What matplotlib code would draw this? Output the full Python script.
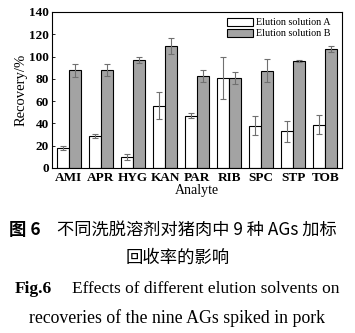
import numpy as np
import matplotlib.pyplot as plt

analytes = ['AMI', 'APR', 'HYG', 'KAN', 'PAR', 'RIB', 'SPC', 'STP', 'TOB']
rec_a = [18, 29, 10, 56, 47, 81, 38, 33, 39]
err_a = [2, 1.8, 3, 12, 2.2, 19, 8.4, 9.3, 8.4]
rec_b = [87.5, 87.8, 96.8, 109.5, 82.3, 80.5, 87.4, 96, 106.5]
err_b = [6, 5.4, 2.7, 7.5, 5.5, 5.5, 10, 1, 2.7]

serif = ['Liberation Serif', 'DejaVu Serif']
cjk = ['Noto Sans CJK SC', 'DejaVu Sans']

fig = plt.figure(figsize=(3.55, 3.33), dpi=100)
ax = fig.add_axes([52 / 355, 1 - 168 / 333, 290 / 355, 156 / 333])

x = np.arange(len(analytes))
w = 0.375
ekw = dict(ecolor='#707070', elinewidth=0.8, capsize=2.5, capthick=0.8)
ax.bar(x - w / 2, rec_a, w, yerr=err_a, color='white', edgecolor='black',
       linewidth=0.8, error_kw=ekw, label='Elution solution A')
ax.bar(x + w / 2, rec_b, w, yerr=err_b, color='#a3a3a3', edgecolor='black',
       linewidth=0.8, error_kw=ekw, label='Elution solution B')

ax.set_xlim(-w - 0.147, len(analytes) - 1 + w + 0.147)
ax.set_ylim(0, 140)
ax.set_yticks(range(0, 141, 20))
ax.set_xticks(x)
ax.set_xticklabels(analytes, family=serif, fontweight='bold', fontsize=9.5)
for lab in ax.get_yticklabels():
    lab.set_family(serif)
    lab.set_fontweight('bold')
    lab.set_fontsize(9.5)
ax.tick_params(axis='y', direction='in', length=2, width=0.6, pad=2)
ax.tick_params(axis='x', length=0, pad=3)
for s in ax.spines.values():
    s.set_linewidth(0.8)

ax.set_ylabel('Recovery/%', family=serif, fontsize=10.5, labelpad=1)
ax.set_xlabel('Analyte', family=serif, fontsize=10, labelpad=0)

ax.legend(loc='upper right', bbox_to_anchor=(0.985, 1.01), frameon=False,
          prop={'family': serif, 'size': 7.3},
          handlelength=2.6, handleheight=0.9, labelspacing=0.15,
          handletextpad=0.3, borderaxespad=0.3)

# caption, split so the bold figure numbers can sit in their own text
fig.text(9 / 355, 1 - 230 / 333, '图 6', ha='left', va='center',
         family=cjk, fontsize=12.5, fontweight='bold')
fig.text(57 / 355, 1 - 230 / 333, '不同洗脱溶剂对猪肉中 9 种 AGs 加标',
         ha='left', va='center', family=cjk, fontsize=12.4)
fig.text(178 / 355, 1 - 258 / 333, '回收率的影响', ha='center', va='center',
         family=cjk, fontsize=12.5)
fig.text(15 / 355, 1 - 289 / 333, 'Fig.6', ha='left', va='center',
         family=serif, fontsize=12.5, fontweight='bold')
fig.text(340 / 355, 1 - 289 / 333, 'Effects of different elution solvents on',
         ha='right', va='center', family=serif, fontsize=12.5)
fig.text(177 / 355, 1 - 318 / 333, 'recoveries of the nine AGs spiked in pork',
         ha='center', va='center', family=serif, fontsize=12.8)

fig.savefig('out.png', dpi=100)
